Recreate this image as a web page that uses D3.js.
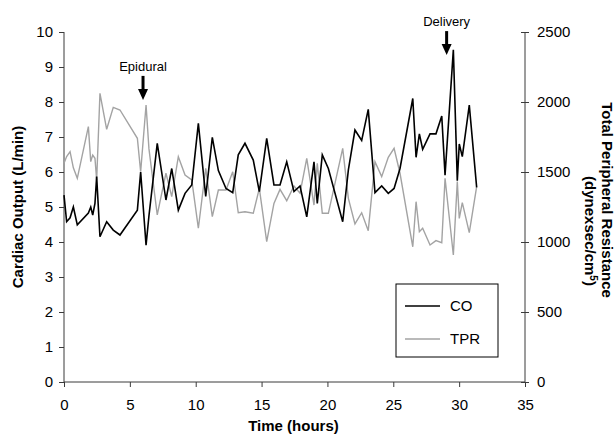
<!DOCTYPE html>
<html>
<head>
<meta charset="utf-8">
<script src="https://cdn.jsdelivr.net/npm/d3@7/dist/d3.min.js"></script>
<style>
  html, body { margin: 0; padding: 0; background: #fff; }
  svg { display: block; font-family: "Liberation Sans", Arial, sans-serif; }
</style>
</head>
<body>
<svg id="chart" width="615" height="435"></svg>
<script>
// Time since admission (hours)
const hours = [0.00, 0.20, 0.46, 0.71, 1.01, 1.85, 2.03, 2.18, 2.35, 2.48,
  2.73, 3.24, 3.74, 4.25, 5.57, 5.82, 6.23, 6.45, 7.08, 7.74,
  8.18, 8.68, 9.19, 9.70, 10.20, 10.76, 11.26, 11.72, 12.30, 12.81,
  13.23, 13.74, 14.37, 14.83, 15.39, 15.94, 16.40, 16.91, 17.46, 17.92,
  18.43, 18.98, 19.23, 19.61, 20.07, 21.16, 21.59, 22.09, 22.60, 23.10,
  23.61, 24.12, 24.62, 25.06, 25.51, 26.48, 26.73, 26.98, 27.23, 27.79,
  28.24, 28.68, 28.93, 29.56, 29.86, 30.01, 30.24, 30.77, 31.33];

// Cardiac output (L/min)
const co = [5.34, 4.58, 4.69, 5.00, 4.49, 4.83, 5.00, 4.77, 5.10, 5.87,
  4.15, 4.58, 4.34, 4.20, 4.91, 6.00, 3.91, 4.75, 6.82, 5.20,
  6.10, 4.91, 5.39, 5.63, 7.39, 5.30, 6.99, 6.04, 5.53, 5.41,
  6.49, 6.82, 6.34, 5.44, 6.96, 5.63, 5.63, 6.29, 5.44, 5.60,
  4.72, 6.29, 5.10, 6.49, 6.10, 4.58, 6.06, 7.20, 6.90, 7.79,
  5.41, 5.60, 5.39, 5.53, 6.10, 8.10, 6.42, 7.09, 6.65, 7.09,
  7.09, 7.60, 5.91, 9.49, 5.75, 6.80, 6.44, 7.91, 5.56];

// Total peripheral resistance (dyne x sec/cm^5)
const tpr = [1562, 1610, 1645, 1530, 1455, 1824, 1574, 1621, 1598, 1443,
  2062, 1805, 1962, 1943, 1741, 1502, 1979, 1665, 1193, 1491,
  1324, 1609, 1479, 1443, 1098, 1526, 1181, 1371, 1371, 1502,
  1209, 1216, 1205, 1383, 1002, 1276, 1376, 1295, 1400, 1348,
  1598, 1264, 1562, 1205, 1205, 1669, 1312, 1129, 1209, 1081,
  1574, 1467, 1605, 1669, 1491, 966, 1288, 1074, 1098, 979,
  1010, 995, 1455, 907, 1431, 1169, 1281, 1067, 1395];

const xTicks = [0, 5, 10, 15, 20, 25, 30, 35];
const coTicks = [0, 1, 2, 3, 4, 5, 6, 7, 8, 9, 10];
const tprTicks = [0, 500, 1000, 1500, 2000, 2500];

// Clinical events: time (h) and label
const eventTimes = [6.0, 29.05];
const eventLabels = ["Epidural", "Delivery"];
// Arrow tip height on the cardiac output axis (L/min)
const eventTips = [8.06, 9.34];

const seriesNames = ["CO", "TPR"];

const svg = d3.select("#chart");
const plotL = 64, plotR = 525, plotT = 32, plotB = 382;

const x = d3.scaleLinear().domain([0, 35]).range([plotL, plotR]);
const yL = d3.scaleLinear().domain([0, 10]).range([plotB, plotT]);
const yR = d3.scaleLinear().domain([0, 2500]).range([plotB, plotT]);

const axisColor = "#3a3a3a";
const tickFont = "15px";

// Bottom axis
const gx = svg.append("g")
  .attr("transform", `translate(0,${plotB})`)
  .call(d3.axisBottom(x).tickValues(xTicks).tickSize(5).tickPadding(12).tickFormat(d3.format("d")));

// Left axis
const gl = svg.append("g")
  .attr("transform", `translate(${plotL},0)`)
  .call(d3.axisLeft(yL).tickValues(coTicks).tickSize(5).tickPadding(6).tickFormat(d3.format("d")));

// Right axis (ticks cross the axis line slightly)
const gr = svg.append("g")
  .attr("transform", `translate(${plotR},0)`)
  .call(d3.axisRight(yR).tickValues(tprTicks).tickSize(4).tickPadding(8).tickFormat(d3.format("d")));
gr.selectAll(".tick line").attr("x1", -4);

[gx, gl, gr].forEach(g => {
  g.select(".domain").attr("stroke", axisColor).attr("stroke-width", 1);
  g.selectAll(".tick line").attr("stroke", axisColor).attr("stroke-width", 1);
  g.selectAll(".tick text")
    .attr("fill", "#000")
    .style("font-size", tickFont)
    .style("font-family", "'Liberation Sans', Arial, sans-serif");
});
// Plain spines without end caps
gx.select(".domain").attr("d", `M${plotL},0H${plotR}`);
gl.select(".domain").attr("d", `M0,${plotB}V${plotT}`);
gr.select(".domain").attr("d", `M0,${plotB}V${plotT}`);

// Series lines
const tprLine = d3.line().x((d, i) => x(hours[i])).y(d => yR(d));
const coLine = d3.line().x((d, i) => x(hours[i])).y(d => yL(d));

svg.append("path")
  .datum(tpr)
  .attr("d", tprLine)
  .attr("fill", "none")
  .attr("stroke", "#a3a3a3")
  .attr("stroke-width", 1.4)
  .attr("stroke-linejoin", "miter");

svg.append("path")
  .datum(co)
  .attr("d", coLine)
  .attr("fill", "none")
  .attr("stroke", "#000")
  .attr("stroke-width", 1.6)
  .attr("stroke-linejoin", "miter");

// Event arrows and labels
eventTimes.forEach((t, i) => {
  const cx = x(t);
  const tipY = yL(eventTips[i]);
  const g = svg.append("g");
  g.append("line")
    .attr("x1", cx).attr("x2", cx)
    .attr("y1", tipY - 24).attr("y2", tipY - 8)
    .attr("stroke", "#000").attr("stroke-width", 3);
  g.append("path")
    .attr("d", `M${cx - 5},${tipY - 11}L${cx + 5},${tipY - 11}L${cx},${tipY}Z`)
    .attr("fill", "#000");
  g.append("text")
    .attr("x", cx).attr("y", tipY - 29)
    .attr("text-anchor", "middle")
    .style("font-size", "13px")
    .text(eventLabels[i]);
});

// Axis titles
svg.append("text")
  .attr("x", (plotL + plotR) / 2 - 1).attr("y", 431)
  .attr("text-anchor", "middle")
  .style("font-size", "15px").style("font-weight", "bold")
  .text("Time (hours)");

svg.append("text")
  .attr("transform", `translate(23,${(plotT + plotB) / 2}) rotate(-90)`)
  .attr("text-anchor", "middle")
  .style("font-size", "15px").style("font-weight", "bold")
  .text("Cardiac Output (L/min)");

svg.append("text")
  .attr("transform", `translate(602,200) rotate(90)`)
  .attr("text-anchor", "middle")
  .style("font-size", "15px").style("font-weight", "bold")
  .text("Total Peripheral Resistance");

const sub = svg.append("text")
  .attr("transform", `translate(585,231) rotate(90)`)
  .attr("text-anchor", "middle")
  .style("font-size", "15px").style("font-weight", "bold");
sub.append("tspan").text("(dynexsec/cm");
sub.append("tspan").attr("baseline-shift", "super").style("font-size", "10px").text("5");
sub.append("tspan").text(")");

// Legend
const lg = svg.append("g").attr("transform", "translate(396,284)");
lg.append("rect")
  .attr("width", 102).attr("height", 73)
  .attr("fill", "#fff").attr("stroke", "#000").attr("stroke-width", 1);
const legendColors = ["#000", "#a3a3a3"];
const legendWidths = [1.6, 1.4];
seriesNames.forEach((name, i) => {
  const yy = 22 + i * 33;
  lg.append("line")
    .attr("x1", 9).attr("x2", 44).attr("y1", yy).attr("y2", yy)
    .attr("stroke", legendColors[i]).attr("stroke-width", legendWidths[i]);
  lg.append("text")
    .attr("x", 54).attr("y", yy + 5)
    .style("font-size", "15px")
    .text(name);
});
</script>
</body>
</html>
